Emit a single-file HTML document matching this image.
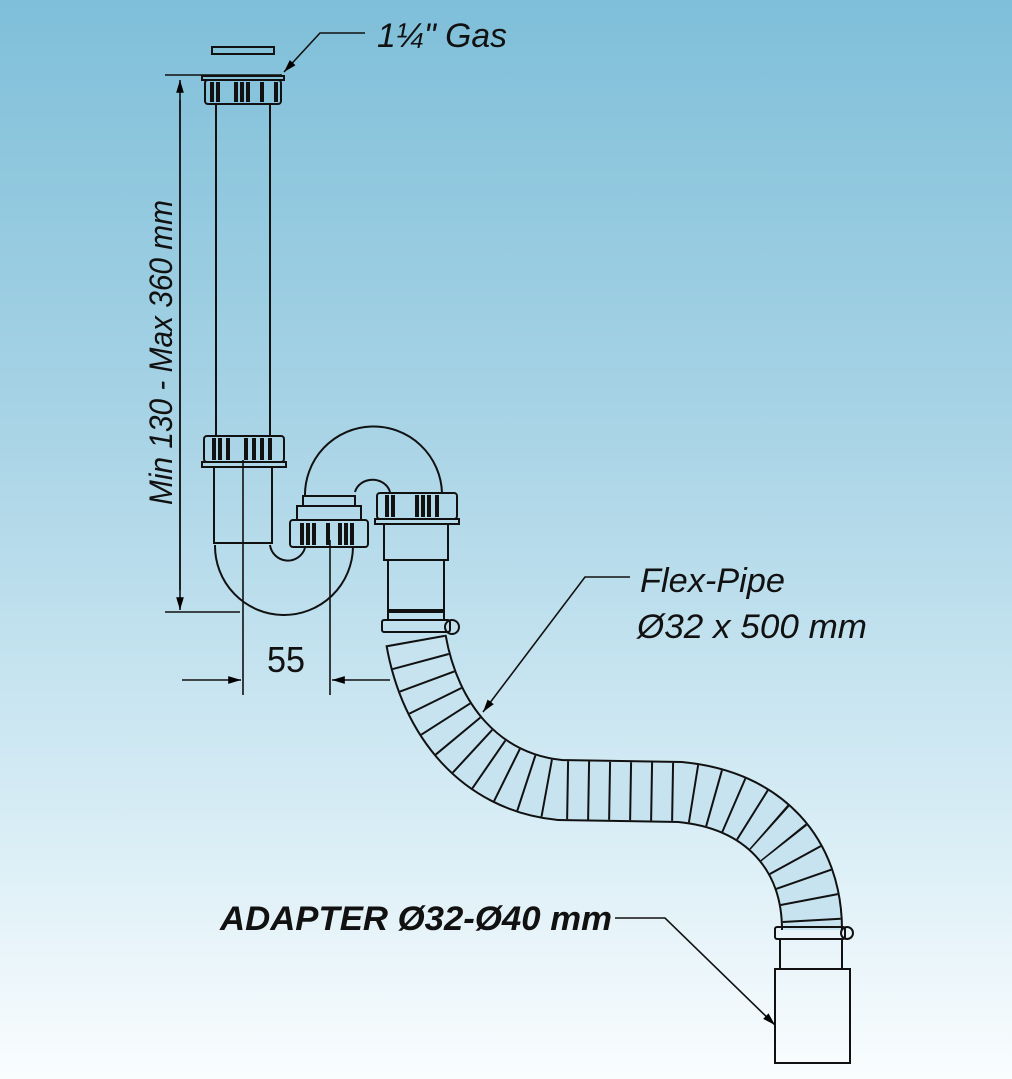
<!DOCTYPE html>
<html><head><style>
html,body{margin:0;padding:0}
body{width:1012px;height:1079px;overflow:hidden;background:linear-gradient(#7fbfd9 0%,#a9d4e6 40%,#d6ecf5 75%,#fafdfe 100%);font-family:"Liberation Sans",sans-serif}
svg{position:absolute;left:0;top:0}
</style></head><body>
<svg width="1012" height="1079" viewBox="0 0 1012 1079">
<defs>
<marker id="ah" viewBox="0 0 10 10" refX="10" refY="5" markerWidth="8" markerHeight="8" orient="auto-start-reverse"><path d="M0,2 L10,5 L0,8 z" fill="#000"/></marker>
</defs>
<g fill="none" stroke="#111" stroke-width="2">
<rect x="212" y="47" width="62" height="7"/>
<path d="M202,76 H284 V80 H202z"/>
<rect x="205" y="80" width="76" height="24" rx="3"/>
<g stroke-width="4"><path d="M212,82v20M218,82v20M236,82v20M242,82v20M248,82v20M262,82v20M276,82v20"/></g>
<path d="M216,104 V436 M270,104 V436"/>
<rect x="204" y="436" width="80" height="26" rx="3"/>
<g stroke-width="4"><path d="M214,438v22M220,438v22M228,438v22M246,438v22M254,438v22M262,438v22M270,438v22"/></g>
<path d="M202,462 H286 V467 H202z"/>
<path d="M214,467 V543 H272 V467"/>
<path d="M215,545 A69,69 0 0 0 353,547 M270,545 A18,18 0 0 0 305,548"/>
<path d="M305,497 A68,68 0 0 1 442,493 M355,492 A18,16 0 0 1 390,492"/>
<rect x="303" y="496" width="52" height="10"/>
<path d="M297,506 H361 V520 H297z"/>
<rect x="290" y="520" width="78" height="27" rx="3"/>
<g stroke-width="4"><path d="M302,523v22M308,523v22M314,523v22M328,523v22M340,523v22M346,523v22M352,523v22"/></g>
<rect x="377" y="493" width="80" height="26" rx="3"/>
<g stroke-width="4"><path d="M387,495v22M393,495v22M417,495v22M423,495v22M429,495v22M437,495v22"/></g>
<path d="M375,519 H459 V524 H375z"/>
<path d="M384,524 V560 H448 V524 M388,560 V612 H444 V560"/>
<rect x="388" y="610" width="56" height="10"/>
<rect x="382" y="620" width="68" height="12" rx="2"/>
<circle cx="452" cy="627" r="7"/>
</g>
<path d="M416,640 C430,720 480,782 560,790 L680,792 C765,800 812,855 812,930" fill="none" stroke="#111" stroke-width="62"/>
<path d="M416,640 C430,720 480,782 560,790 L680,792 C765,800 812,855 812,930" fill="none" stroke="#c6e3ef" stroke-width="58"/>
<path d="M416,640 C430,720 480,782 560,790 L680,792 C765,800 812,855 812,930" fill="none" stroke="#111" stroke-width="58" stroke-dasharray="2 19"/>
<g fill="none" stroke="#111" stroke-width="2">
<rect x="775" y="927" width="70" height="12" rx="2"/>
<circle cx="847" cy="933" r="6"/>
<rect x="780" y="939" width="62" height="30"/>
<rect x="775" y="969" width="75" height="94"/>
</g>
<g stroke="#111" stroke-width="1.6" fill="none">
<path d="M165,75 H282 M165,612 H240"/>
<path d="M180,590 V80" marker-end="url(#ah)"/>
<path d="M180,100 V610" marker-end="url(#ah)"/>
<path d="M243,460 V695 M330,540 V695"/>
<path d="M182,680 H241" marker-end="url(#ah)"/>
<path d="M390,680 H332" marker-end="url(#ah)"/>
<path d="M365,33 H320 L284,72" marker-end="url(#ah)"/>
<path d="M630,577 H585 L483,712" marker-end="url(#ah)"/>
<path d="M615,918 H665 L775,1025" marker-end="url(#ah)"/>
</g>
<g fill="#111" font-family="Liberation Sans, sans-serif">
<text x="377" y="47" font-size="34" font-style="italic" textLength="130" lengthAdjust="spacingAndGlyphs">1¼" Gas</text>
<text x="267" y="672" font-size="36" textLength="38" lengthAdjust="spacingAndGlyphs">55</text>
<text x="640" y="592" font-size="34" font-style="italic" textLength="145" lengthAdjust="spacingAndGlyphs">Flex-Pipe</text>
<text x="637" y="638" font-size="34" font-style="italic" textLength="230" lengthAdjust="spacingAndGlyphs">Ø32 x 500 mm</text>
<text x="220" y="930" font-size="34" font-style="italic" font-weight="bold" textLength="392" lengthAdjust="spacingAndGlyphs">ADAPTER Ø32-Ø40 mm</text>
<text transform="translate(172,505) rotate(-90)" font-size="32" font-style="italic" textLength="305" lengthAdjust="spacingAndGlyphs">Min 130 - Max 360 mm</text>
</g>
</svg>
</body></html>
